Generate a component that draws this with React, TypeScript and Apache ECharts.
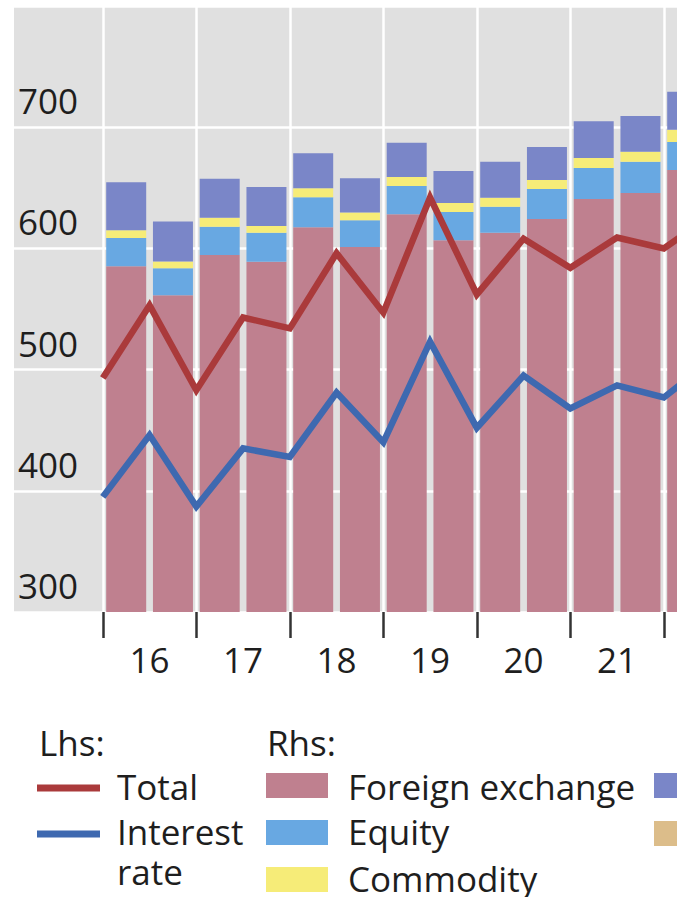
import React, { useEffect, useRef } from "react";
import * as echarts from "echarts";

// ---- data ----
const yearLabels = ["16", "17", "18", "19", "20", "21"];
// line observations sit on half-year boundaries (index 0 = end-2015)
const linePeriods = [
  "Dec15", "Jun16", "Dec16", "Jun17", "Dec17", "Jun18", "Dec18",
  "Jun19", "Dec19", "Jun20", "Dec20", "Jun21", "Dec21", "Jun22",
];
const total = [493, 553, 483, 543, 534, 596, 547, 642, 562, 608, 584, 609, 600, 627];
const interestRate = [395, 446, 387, 435, 428, 481, 440, 523, 452, 495, 468, 487, 477, 507];

// stacked bars, one per half-year
const barPeriods = [
  "H1 16", "H2 16", "H1 17", "H2 17", "H1 18", "H2 18", "H1 19",
  "H2 19", "H1 20", "H2 20", "H1 21", "H2 21", "H1 22",
];
const foreignExchange = [79.9, 73.2, 82.5, 80.9, 88.9, 84.3, 91.9, 85.9, 87.6, 90.8, 95.4, 96.8, 102.1];
const equity = [6.5, 6.2, 6.5, 6.7, 6.9, 6.2, 6.5, 6.5, 6.0, 6.9, 7.2, 7.2, 6.5];
const commodity = [1.8, 1.6, 2.1, 1.6, 2.1, 1.8, 2.1, 2.1, 2.1, 2.1, 2.3, 2.3, 2.8];
const credit = [11.1, 9.2, 9.0, 9.0, 8.1, 7.9, 7.9, 7.4, 8.3, 7.6, 8.5, 8.3, 8.8];

const lhsTicks = [300, 400, 500, 600, 700];

// ---- styles ----
const C_TOTAL = "#aa3a3b";
const C_IR = "#3e69b0";
const C_FX = "#bf808f";
const C_EQ = "#68a8e2";
const C_COM = "#f6ec78";
const C_CREDIT = "#7a86c8";
const C_OTHER = "#dcbd8a";
const FONT = "'Open Sans', sans-serif";
const TXT = "#1e1e1e";

const VIEW_W = 677;
const VIEW_H = 897;
const CHART_W = 780; // chart is wider than the view; the right part is cropped like the reference

export default function App() {
  const ref = useRef<HTMLDivElement>(null);

  useEffect(() => {
    const chart = echarts.init(ref.current as HTMLDivElement, null, { renderer: "svg" });
    const SLOT = 46.75;
    const GRID_LEFT = 14;
    const X_MIN = -1.9;
    const GRID_W = CHART_W - GRID_LEFT;
    const X_MAX = X_MIN + GRID_W / SLOT;
    const TOP = 6;
    const HEIGHT = 606;

    const tickValues = [0, ...yearLabels.map((_, j) => 2 * (j + 1)), 2 * (yearLabels.length + 1)];
    const labelValues = yearLabels.map((_, j) => 2 * j + 1);

    const lineData = (arr: number[]) => arr.map((v, i) => [i, v]);

    const barSeries = (name: string, arr: number[], color: string) => ({
      name,
      type: "bar",
      stack: "rhs",
      xAxisIndex: 1,
      yAxisIndex: 1,
      barWidth: 40,
      itemStyle: { color },
      data: arr.slice(0, barPeriods.length),
    });

    const lineSeries = (name: string, arr: number[], color: string) => ({
      name,
      type: "line",
      xAxisIndex: 0,
      yAxisIndex: 0,
      showSymbol: false,
      clip: true,
      lineStyle: { color, width: 6.5, join: "miter" },
      data: lineData(arr.slice(0, linePeriods.length)),
    });

    const txt = (text: string, x: number, y: number, extra: any = {}) => ({
      type: "text",
      x,
      y,
      style: {
        text,
        fill: TXT,
        font: `35px ${FONT}`,
        align: "left",
        verticalAlign: "middle",
        ...extra,
      },
    });

    const option = {
      animation: false,
      grid: [
        {
          left: GRID_LEFT,
          top: TOP,
          width: GRID_W,
          height: HEIGHT,
          show: true,
          backgroundColor: "#e0e0e0",
          borderWidth: 0,
        },
        {
          left: GRID_LEFT + -X_MIN * SLOT,
          top: TOP,
          width: barPeriods.length * SLOT,
          height: HEIGHT,
          show: false,
        },
      ],
      xAxis: [
        {
          type: "value",
          gridIndex: 0,
          min: X_MIN,
          max: X_MAX,
          axisLine: { show: false },
          axisTick: {
            show: true,
            length: 26,
            customValues: tickValues,
            lineStyle: { color: "#333", width: 2.5 },
          },
          axisLabel: {
            show: true,
            customValues: labelValues,
            formatter: (v: number) => yearLabels[Math.round((v - 1) / 2)] ?? "",
            margin: 30,
            fontSize: 35,
            fontFamily: FONT,
            color: TXT,
          },
          splitLine: { show: true, lineStyle: { color: "#ffffff", width: 2.5 } },
        },
        {
          type: "category",
          gridIndex: 1,
          data: barPeriods,
          boundaryGap: true,
          show: false,
        },
      ],
      yAxis: [
        {
          type: "value",
          gridIndex: 0,
          min: 300,
          max: 800,
          interval: 100,
          position: "left",
          axisLine: { show: false },
          axisTick: { show: false },
          axisLabel: {
            inside: true,
            margin: 4,
            verticalAlign: "bottom",
            padding: [0, 0, 9, 0],
            fontSize: 35,
            fontFamily: FONT,
            color: TXT,
            formatter: (v: number) => (lhsTicks.includes(v) ? String(v) : ""),
          },
          splitLine: { show: true, lineStyle: { color: "#ffffff", width: 2.5 } },
        },
        {
          type: "value",
          gridIndex: 1,
          min: 0,
          max: 140,
          show: false,
          splitLine: { show: false },
        },
      ],
      series: [
        barSeries("Foreign exchange", foreignExchange, C_FX),
        barSeries("Equity", equity, C_EQ),
        barSeries("Commodity", commodity, C_COM),
        barSeries("Credit", credit, C_CREDIT),
        lineSeries("Total", total, C_TOTAL),
        lineSeries("Interest rate", interestRate, C_IR),
      ],
      graphic: [
        txt("Lhs:", 39, 742),
        txt("Rhs:", 267, 742),
        { type: "line", shape: { x1: 37, y1: 788, x2: 100, y2: 788 }, style: { stroke: C_TOTAL, lineWidth: 7 } },
        txt("Total", 117, 786),
        { type: "line", shape: { x1: 37, y1: 834, x2: 100, y2: 834 }, style: { stroke: C_IR, lineWidth: 7 } },
        txt("Interest\nrate", 117, 851, { lineHeight: 40 }),
        { type: "rect", shape: { x: 266, y: 773, width: 62, height: 25 }, style: { fill: C_FX } },
        txt("Foreign exchange", 348, 786),
        { type: "rect", shape: { x: 266, y: 820, width: 62, height: 25 }, style: { fill: C_EQ } },
        txt("Equity", 348, 831),
        { type: "rect", shape: { x: 266, y: 867, width: 62, height: 25 }, style: { fill: C_COM } },
        txt("Commodity", 348, 878),
        { type: "rect", shape: { x: 654, y: 773, width: 62, height: 25 }, style: { fill: C_CREDIT } },
        { type: "rect", shape: { x: 654, y: 821, width: 62, height: 25 }, style: { fill: C_OTHER } },
      ],
    };

    chart.setOption(option as any);
    return () => chart.dispose();
  }, []);

  return (
    <div
      style={{
        position: "fixed",
        left: 0,
        top: 0,
        width: VIEW_W,
        height: VIEW_H,
        overflow: "hidden",
        background: "#fff",
      }}
    >
      <div ref={ref} style={{ width: CHART_W, height: VIEW_H }} />
    </div>
  );
}
